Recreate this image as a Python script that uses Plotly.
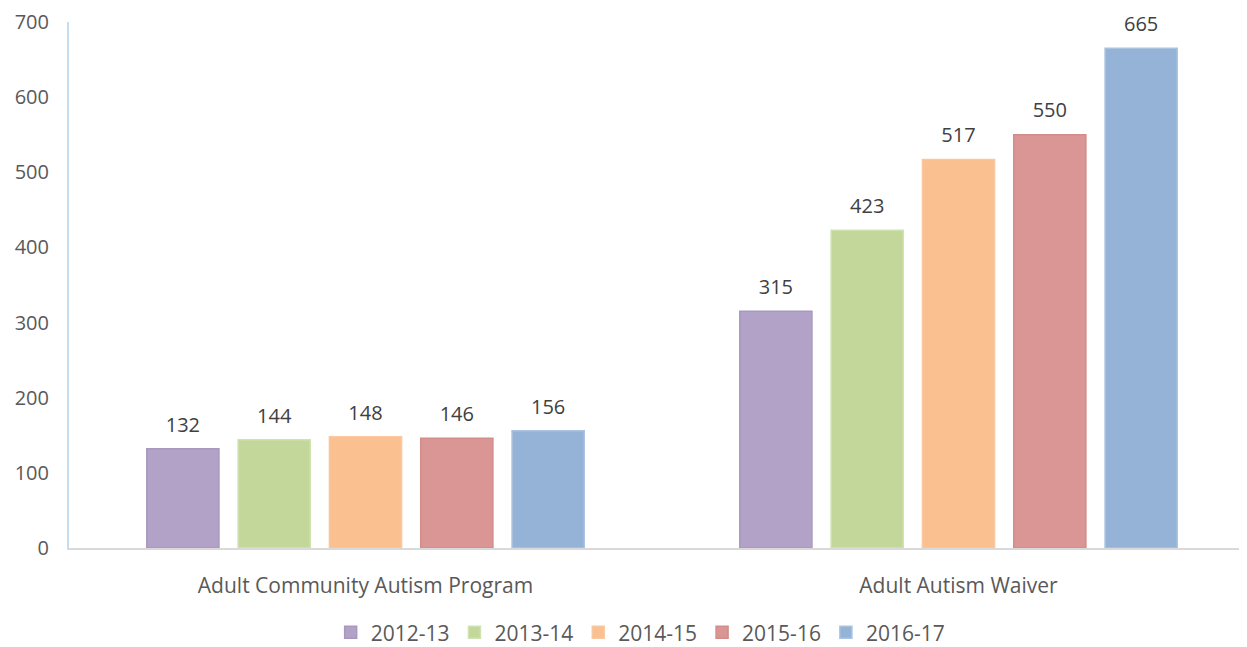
import plotly.graph_objects as go

categories = ["Adult Community Autism Program", "Adult Autism Waiver"]
years = ["2012-13", "2013-14", "2014-15", "2015-16", "2016-17"]
values = {
    "2012-13": [132, 315],
    "2013-14": [144, 423],
    "2014-15": [148, 517],
    "2015-16": [146, 550],
    "2016-17": [156, 665],
}
colors = ["#B3A2C7", "#C4D79B", "#FAC090", "#D99694", "#95B3D7"]
edge = ["#A898BE", "#CDE3B0", "#F9C8A0", "#D38C8A", "#A9C3E0"]
yticks = [0, 100, 200, 300, 400, 500, 600, 700]

fig = go.Figure()
for y, c, e in zip(years, colors, edge):
    fig.add_trace(go.Bar(
        name=y, x=categories, y=values[y], offsetgroup=y,
        marker=dict(color=c, line=dict(color=e, width=1.5)),
    ))
for y in years:
    fig.add_trace(go.Scatter(
        x=categories, y=values[y], offsetgroup=y, mode="markers+text",
        text=[str(v) for v in values[y]], textposition="top center",
        marker=dict(size=18, color="rgba(0,0,0,0)"),
        textfont=dict(size=20, color="#404040"), cliponaxis=False,
        showlegend=False, hoverinfo="skip",
    ))

font = "Open Sans, Liberation Sans, DejaVu Sans, sans-serif"
fig.update_layout(
    width=1247, height=647,
    margin=dict(l=61, r=0, t=12, b=107),
    paper_bgcolor="white", plot_bgcolor="white",
    barmode="group", bargap=0.23, bargroupgap=0.21,
    scattermode="group", scattergap=0.23,
    font=dict(family=font, color="#595959", size=20),
    legend=dict(orientation="h", x=0.482, xanchor="center", y=-0.161, yanchor="middle",
                font=dict(size=21, color="#595959"), traceorder="normal"),
    showlegend=True,
    xaxis=dict(showline=True, linecolor="#D9D9D9", linewidth=2, showgrid=False,
               ticks="", tickfont=dict(size=21, color="#595959"), ticklabelstandoff=18),
    yaxis=dict(range=[0, 700], tickvals=yticks, showgrid=False, zeroline=False,
               showline=True, linecolor="#C5DDF2", linewidth=2, ticklabeloverflow="allow",
               tickfont=dict(size=20, color="#595959"), ticklabelstandoff=14),
)
fig.write_html("out.html")
